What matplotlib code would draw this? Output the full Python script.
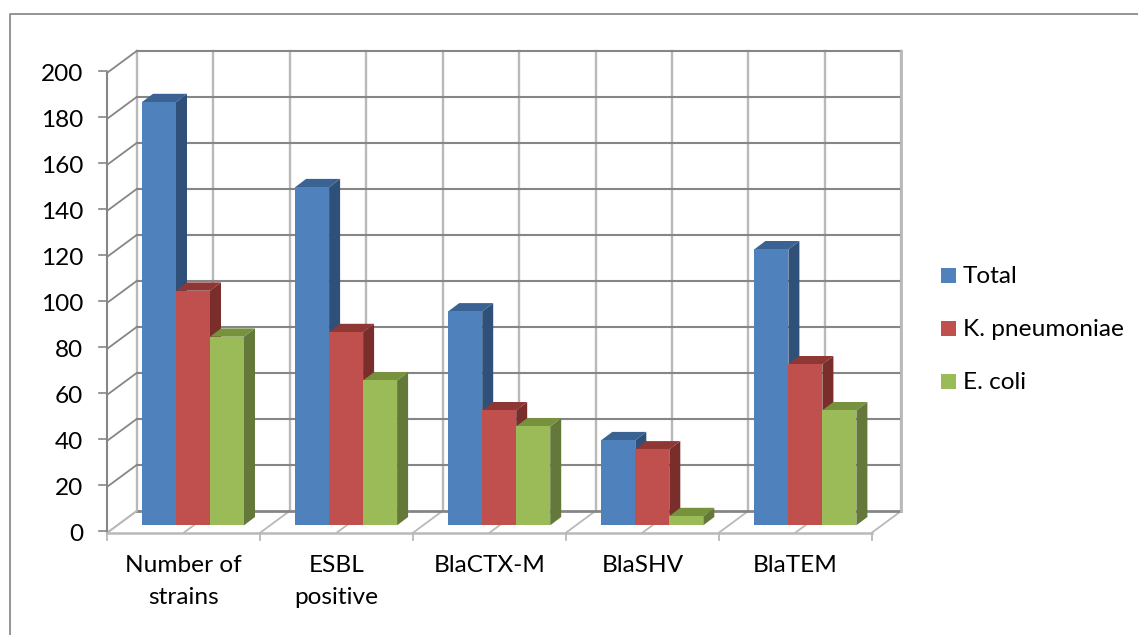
import matplotlib
matplotlib.use("Agg")
import matplotlib.pyplot as plt
from matplotlib.patches import Polygon, Rectangle

# -------------------
# DATA
# -------------------
categories = ["Number of\nstrains", "ESBL\npositive", "BlaCTX-M", "BlaSHV", "BlaTEM"]
series_names = ["Total", "K. pneumoniae", "E. coli"]
total = [184, 147, 93, 37, 120]
k_pneumoniae = [102, 84, 50, 33, 70]
e_coli = [82, 63, 43, 4, 50]
y_ticks = [0, 20, 40, 60, 80, 100, 120, 140, 160, 180, 200]

front_colors = ["#4F81BD", "#C0504D", "#9BBB59"]
top_colors = ["#3A6394", "#8E3735", "#76923C"]
side_colors = ["#2F5078", "#7A2E2C", "#64783A"]

W, H = 1138, 635
GROUP_PX = 153.1
VALUE_PX = 2.3
X0_PX = 193.0
Y0_PX = 525.3


# pixel sizes converted to data units
def dx(px):
    return px / GROUP_PX


def dy(px):
    return px / VALUE_PX


fig = plt.figure(figsize=(W / 100, H / 100), dpi=100)
ax = fig.add_axes([0, 0, 1, 1])
ax.set_xlim(-X0_PX / GROUP_PX, (W - X0_PX) / GROUP_PX)
ax.set_ylim(-(H - Y0_PX) / VALUE_PX, Y0_PX / VALUE_PX)
ax.axis("off")

plt.rcParams["font.family"] = ["Lato", "DejaVu Sans"]
FONT = 17.6
TEXT = "#000000"
DARK = "#868686"
LIGHT = "#B9B9B9"

# -------------------
# WALLS AND FLOOR
# -------------------
n = len(categories)
step = 152.9 / GROUP_PX
front_left = dx(107.3 - X0_PX)
back_left = dx(136.8 - X0_PX)
front_base = dy(Y0_PX - 532.7)
back_base = dy(Y0_PX - 510.9)

# back wall verticals, every half category
for k in range(2 * n + 1):
    x_back = back_left + k * step / 2
    x_front = front_left + k * step / 2
    ax.plot([x_back, x_back], [back_base, back_base + 200], color=LIGHT, lw=1.7, zorder=1)
    ax.plot([x_front, x_back], [front_base, back_base], color=LIGHT, lw=1.3, zorder=1)

for v in y_ticks:
    col = DARK if v > 0 else LIGHT
    ax.plot([back_left, back_left + n * step], [back_base + v, back_base + v],
            color=DARK, lw=1.5 if v else 2.0, zorder=2)
    ax.plot([front_left, back_left], [front_base + v, back_base + v], color=col, lw=1.3, zorder=2)
    # tick and value label on the front edge
    ax.plot([front_left - dx(8.5), front_left], [front_base + v + dy(1.8)] * 2, color=DARK, lw=1.2, zorder=2)
    ax.text(front_left - dx(24), front_base + v - dy(1.5), str(v), ha="right", va="center",
            fontsize=FONT, color=TEXT)

ax.plot([front_left, front_left], [front_base, front_base + 200], color=DARK, lw=1.5, zorder=2)
ax.plot([back_left + n * step] * 2, [back_base, back_base + 200], color=LIGHT, lw=2.0, zorder=2)
ax.plot([front_left, front_left + n * step], [front_base, front_base], color=LIGHT, lw=1.8, zorder=2)
for k in range(n + 1):
    x = front_left + k * step
    ax.plot([x, x], [front_base, front_base - dy(7)], color=LIGHT, lw=1.3, zorder=2)

# -------------------
# BARS
# -------------------
bar_w = 34.0 / GROUP_PX
side_x = dx(11)
side_y = dy(8.3)
values = [total, k_pneumoniae, e_coli]

z = 3
for i in range(n):
    for s, vals in enumerate(values):
        x = i + (s - 1) * bar_w
        v = vals[i]
        l, r = x - bar_w / 2, x + bar_w / 2
        ax.add_patch(Polygon([(r, 0), (r + side_x, side_y), (r + side_x, v + side_y), (r, v)],
                             facecolor=side_colors[s], edgecolor="none", zorder=z))
        ax.add_patch(Polygon([(l, v), (l + side_x, v + side_y), (r + side_x, v + side_y), (r, v)],
                             facecolor=top_colors[s], edgecolor="none", zorder=z))
        ax.bar(x, v, width=bar_w, color=front_colors[s], zorder=z + 0.5)
        z += 1

# -------------------
# CATEGORY LABELS
# -------------------
for i, label in enumerate(categories):
    x = front_left + (i + 0.5) * step
    ax.text(x, dy(Y0_PX - 555), label, ha="center", va="top", fontsize=FONT,
            color=TEXT, linespacing=1.65, zorder=20)

# -------------------
# LEGEND
# -------------------
for s, name in enumerate(series_names):
    top_px = 268 + s * 53
    ax.add_patch(Rectangle((dx(941 - X0_PX), dy(Y0_PX - top_px - 15)), dx(15), dy(15),
                           facecolor=front_colors[s], edgecolor="none", zorder=20))
    ax.text(dx(963 - X0_PX), dy(Y0_PX - top_px - 8), name, ha="left", va="center",
            fontsize=FONT, color=TEXT, zorder=20)

# -------------------
# OUTER FRAME
# -------------------
ax.plot([dx(10 - X0_PX), dx(10 - X0_PX), dx(W - X0_PX)],
        [dy(Y0_PX - H), dy(Y0_PX - 13.7), dy(Y0_PX - 13.7)],
        color="#8C8C8C", lw=1.3, zorder=20, clip_on=False)

fig.savefig("out.png", dpi=100, facecolor="white")
